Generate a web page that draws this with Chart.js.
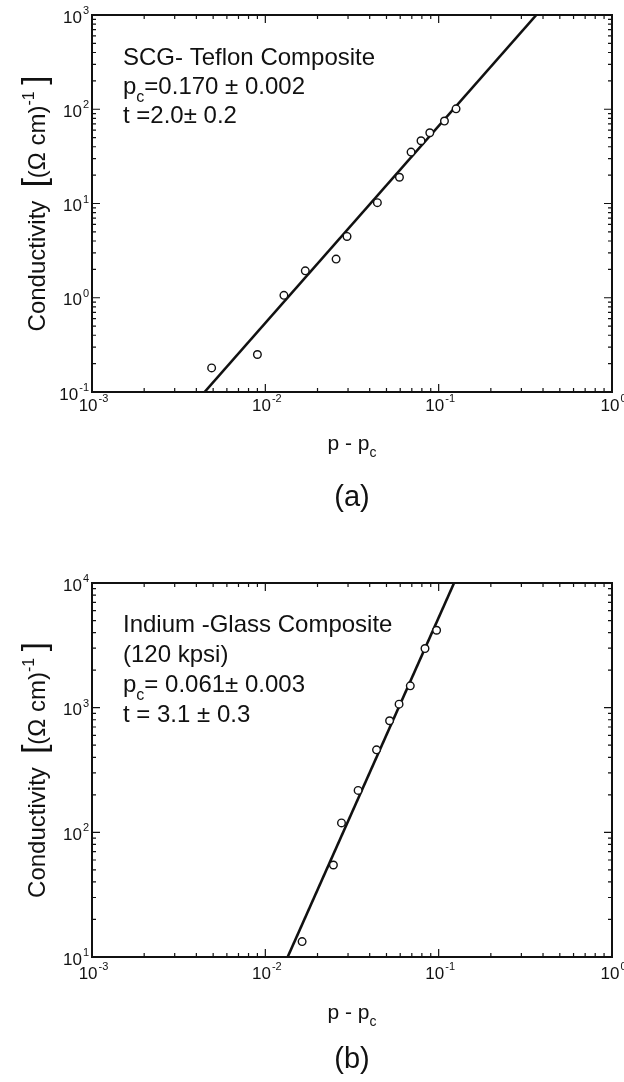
<!DOCTYPE html>
<html>
<head>
<meta charset="utf-8">
<script src="https://cdn.jsdelivr.net/npm/chart.js@4.4.0/dist/chart.umd.min.js"></script>
<style>
  html, body { margin: 0; padding: 0; background: #fff; }
  #wrap { position: relative; width: 624px; height: 1082px; }
  canvas { position: absolute; left: 0; }
  #chartA { top: 0; }
  #chartB { top: 540px; }
</style>
</head>
<body>
<div id="wrap">
  <canvas id="chartA" width="624" height="540"></canvas>
  <canvas id="chartB" width="624" height="542"></canvas>
</div>
<script>
// (a) SCG-Teflon composite: p - pc vs conductivity
const aX = [0.0049, 0.0090, 0.0128, 0.0170, 0.0256, 0.0296, 0.0443, 0.0594, 0.0693, 0.0791, 0.0889, 0.108, 0.126];
const aY = [0.18, 0.25, 1.06, 1.93, 2.57, 4.47, 10.2, 19.0, 35.1, 46.3, 56.3, 75, 101];
const aFitX = [0.00446, 0.366];
const aFitY = [0.1, 1000];

// (b) Indium-glass composite
const bX = [0.0163, 0.0247, 0.0275, 0.0343, 0.0438, 0.0521, 0.0591, 0.0686, 0.0834, 0.0973];
const bY = [13.3, 54.7, 119, 217, 459, 785, 1067, 1496, 2980, 4180];
const bFitX = [0.01345, 0.1227];
const bFitY = [10, 10000];

// tick labels, as powers of ten
const xTickExps = [-3, -2, -1, 0];
const aYTickExps = [-1, 0, 1, 2, 3];
const bYTickExps = [1, 2, 3, 4];

const INK = '#111';
const FONT = '"Liberation Sans", Arial, sans-serif';

const pts = (xs, ys) => xs.map((v, i) => ({ x: v, y: ys[i] }));

// text pieces: [text, 'n' | 'sub' | 'sup', size]
function richWidth(ctx, parts, size) {
  let w = 0;
  parts.forEach(([t, mode, s]) => {
    const fs = s || (mode === 'n' ? size : Math.round(size * 0.68));
    ctx.font = fs + 'px ' + FONT;
    w += ctx.measureText(t).width;
  });
  return w;
}
function drawRich(ctx, x, y, parts, size) {
  ctx.textBaseline = 'alphabetic';
  ctx.textAlign = 'left';
  parts.forEach(([t, mode, s]) => {
    const fs = s || (mode === 'n' ? size : Math.round(size * 0.68));
    ctx.font = fs + 'px ' + FONT;
    let dy = 0;
    if (mode === 'sub') dy = size * 0.35;
    if (mode === 'sup') dy = -size * 0.45;
    ctx.fillText(t, x, y + dy);
    x += ctx.measureText(t).width;
  });
  return x;
}

function drawPow(ctx, x, yMid, exp, align) {
  const base = '10', sup = String(exp);
  ctx.textBaseline = 'middle';
  ctx.textAlign = 'left';
  ctx.font = '17px ' + FONT;
  const wb = ctx.measureText(base).width;
  ctx.font = '11px ' + FONT;
  const ws = ctx.measureText(sup).width;
  const start = align === 'center' ? x - (wb + ws) / 2 + 1 : x - wb - ws - 1;
  ctx.font = '17px ' + FONT;
  ctx.fillText(base, start, yMid);
  ctx.font = '11px ' + FONT;
  ctx.fillText(sup, start + wb + 1, yMid - 7);
}

const paperAxes = {
  id: 'paperAxes',
  beforeDatasetsDraw(chart, args, opts) {
    const { ctx, chartArea: a, scales: { x, y } } = chart;
    ctx.save();
    ctx.strokeStyle = INK;
    ctx.lineWidth = 1.2;
    ctx.beginPath();
    const xe = opts.xExps, ye = opts.yExps;
    for (let e = xe[0]; e <= xe[xe.length - 1]; e++) {
      for (let m = 1; m <= 9; m++) {
        if (e === xe[xe.length - 1] && m > 1) break;
        const px = x.getPixelForValue(m * Math.pow(10, e));
        const len = m === 1 ? 8 : 4;
        ctx.moveTo(px, a.bottom); ctx.lineTo(px, a.bottom - len);
        ctx.moveTo(px, a.top); ctx.lineTo(px, a.top + len);
      }
    }
    for (let e = ye[0]; e <= ye[ye.length - 1]; e++) {
      for (let m = 1; m <= 9; m++) {
        if (e === ye[ye.length - 1] && m > 1) break;
        const py = y.getPixelForValue(m * Math.pow(10, e));
        const len = m === 1 ? 8 : 4;
        ctx.moveTo(a.left, py); ctx.lineTo(a.left + len, py);
        ctx.moveTo(a.right, py); ctx.lineTo(a.right - len, py);
      }
    }
    ctx.stroke();
    ctx.lineWidth = 2;
    ctx.strokeRect(a.left, a.top, a.right - a.left, a.bottom - a.top);
    ctx.restore();
  },
  afterDraw(chart, args, opts) {
    const { ctx, chartArea: a, scales: { x, y } } = chart;
    ctx.save();
    ctx.fillStyle = INK;
    // tick labels
    opts.xExps.forEach(e => drawPow(ctx, x.getPixelForValue(Math.pow(10, e)), a.bottom + opts.xLabelGap, e, 'center'));
    opts.yExps.forEach(e => drawPow(ctx, a.left - 3, y.getPixelForValue(Math.pow(10, e)) + 3, e, 'right'));

    const cx = (a.left + a.right) / 2;
    // x title p - pc
    const xt = [['p - p', 'n'], ['c', 'sub']];
    drawRich(ctx, cx - richWidth(ctx, xt, 21) / 2, a.bottom + opts.xTitleGap, xt, 21);
    // panel label
    ctx.font = '29px ' + FONT;
    ctx.textAlign = 'center';
    ctx.textBaseline = 'middle';
    ctx.fillText(opts.panel, cx, a.bottom + opts.panelGap);

    // y title, rotated
    const cy = (a.top + a.bottom) / 2;
    ctx.translate(37, cy);
    ctx.rotate(-Math.PI / 2);
    const yt = [['Conductivity  ', 'n'], ['[', 'n', 33], ['(\u03A9 cm)', 'n'], ['-1', 'sup'], ['\u2009]', 'n', 33]];
    drawRich(ctx, -richWidth(ctx, yt, 24) / 2, 8, yt, 24);
    ctx.setTransform(1, 0, 0, 1, 0, 0);

    // annotation block
    opts.notes.forEach((line, i) => {
      drawRich(ctx, 123, a.top + opts.noteTop + i * opts.noteStep, line, 24);
    });
    ctx.restore();
  }
};

function makeChart(id, xs, ys, fx, fy, yMin, yMax, extra) {
  return new Chart(document.getElementById(id), {
    type: 'scatter',
    data: {
      datasets: [
        {
          data: pts(xs, ys),
          pointStyle: 'circle',
          pointRadius: 3.8,
          pointBorderWidth: 1.4,
          pointBackgroundColor: '#fff',
          pointBorderColor: INK,
          showLine: false,
          order: 0
        },
        {
          data: pts(fx, fy),
          showLine: true,
          borderColor: INK,
          borderWidth: 2.6,
          pointRadius: 0,
          order: 1
        }
      ]
    },
    options: {
      responsive: false,
      animation: false,
      devicePixelRatio: 1,
      events: [],
      layout: { padding: extra.padding },
      scales: {
        x: { type: 'logarithmic', min: 0.001, max: 1, display: false },
        y: { type: 'logarithmic', min: yMin, max: yMax, display: false }
      },
      plugins: {
        legend: { display: false },
        tooltip: { enabled: false },
        paperAxes: extra.axes
      }
    },
    plugins: [paperAxes]
  });
}

makeChart('chartA', aX, aY, aFitX, aFitY, 0.1, 1000, {
  padding: { left: 92, right: 12, top: 15, bottom: 148 },
  axes: {
    xExps: xTickExps, yExps: aYTickExps, panel: '(a)',
    xLabelGap: 14, xTitleGap: 58, panelGap: 106,
    noteTop: 50, noteStep: 29,
    notes: [
      [['SCG- Teflon Composite', 'n']],
      [['p', 'n'], ['c', 'sub'], ['=0.170 \u00B1 0.002', 'n']],
      [['t =2.0\u00B1 0.2', 'n']]
    ]
  }
});

makeChart('chartB', bX, bY, bFitX, bFitY, 10, 10000, {
  padding: { left: 92, right: 12, top: 43, bottom: 125 },
  axes: {
    xExps: xTickExps, yExps: bYTickExps, panel: '(b)',
    xLabelGap: 17, xTitleGap: 62, panelGap: 103,
    noteTop: 49, noteStep: 30,
    notes: [
      [['Indium -Glass Composite', 'n']],
      [['(120 kpsi)', 'n']],
      [['p', 'n'], ['c', 'sub'], ['= 0.061\u00B1 0.003', 'n']],
      [['t = 3.1 \u00B1 0.3', 'n']]
    ]
  }
});
</script>
</body>
</html>
